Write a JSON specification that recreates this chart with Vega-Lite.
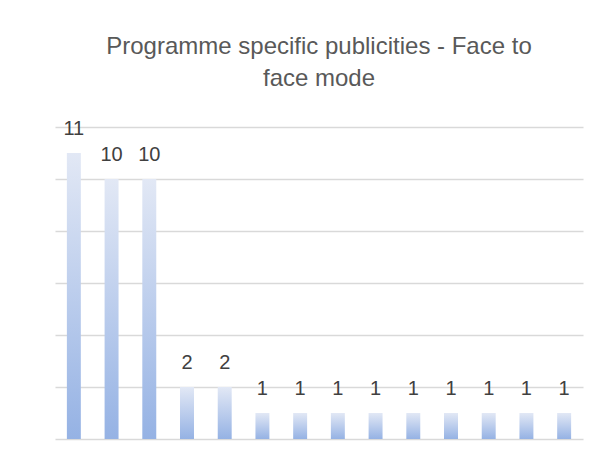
{
  "$schema": "https://vega.github.io/schema/vega-lite/v6.json",
  "autosize": "none",
  "width": 528,
  "height": 312,
  "padding": {"left": 55, "top": 127, "right": 30, "bottom": 26},
  "background": "white",
  "title": {
    "text": ["Programme specific publicities - Face to", "face mode"],
    "font": "Liberation Sans",
    "fontSize": 24,
    "fontWeight": "normal",
    "color": "#595959",
    "lineHeight": 32,
    "anchor": "middle",
    "offset": 28
  },
  "config": {
    "view": {"stroke": null},
    "axis": {"labelFont": "Liberation Sans", "titleFont": "Liberation Sans"}
  },
  "data": {
    "values": [
      {"item": "1", "count": 11},
      {"item": "2", "count": 10},
      {"item": "3", "count": 10},
      {"item": "4", "count": 2},
      {"item": "5", "count": 2},
      {"item": "6", "count": 1},
      {"item": "7", "count": 1},
      {"item": "8", "count": 1},
      {"item": "9", "count": 1},
      {"item": "10", "count": 1},
      {"item": "11", "count": 1},
      {"item": "12", "count": 1},
      {"item": "13", "count": 1},
      {"item": "14", "count": 1}
    ]
  },
  "encoding": {
    "x": {
      "field": "item",
      "type": "ordinal",
      "sort": null,
      "scale": {"paddingInner": 0.63, "paddingOuter": 0.315},
      "axis": null
    },
    "y": {
      "field": "count",
      "type": "quantitative",
      "scale": {"domain": [0, 12], "nice": false},
      "axis": {
        "title": null,
        "labels": false,
        "ticks": false,
        "domain": false,
        "values": [0, 2, 4, 6, 8, 10, 12],
        "grid": true,
        "gridColor": "#d9d9d9",
        "gridWidth": 1.5
      }
    }
  },
  "layer": [
    {
      "mark": {
        "type": "bar",
        "color": {
          "gradient": "linear",
          "x1": 0, "y1": 0, "x2": 0, "y2": 1,
          "stops": [
            {"offset": 0, "color": "#e2e8f5"},
            {"offset": 1, "color": "#95b2e4"}
          ]
        }
      }
    },
    {
      "mark": {
        "type": "text",
        "font": "Liberation Sans",
        "fontSize": 20,
        "color": "#404040",
        "baseline": "middle",
        "dy": -24
      },
      "encoding": {"text": {"field": "count", "type": "quantitative"}}
    }
  ]
}
